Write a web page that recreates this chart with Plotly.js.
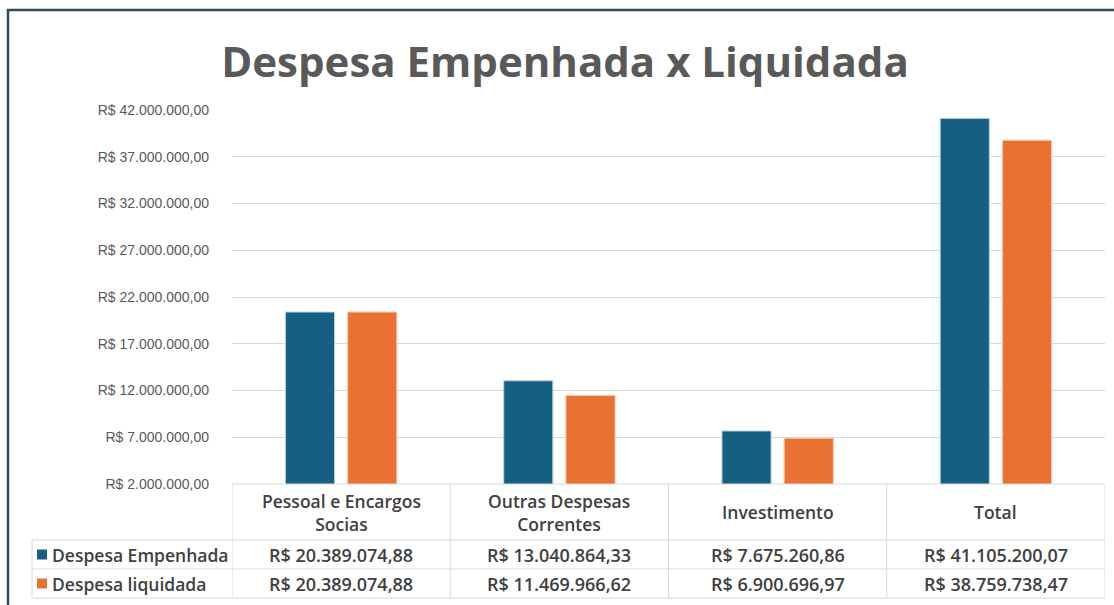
<!DOCTYPE html>
<html>
<head>
<meta charset="utf-8">
<script src="https://cdn.plot.ly/plotly-3.0.1.min.js"></script>
<style>html,body{margin:0;padding:0;background:#fff;}#chart{width:1114px;height:605px;}</style>
</head>
<body>
<div id="chart"></div>
<script>
// ---- data ----
var categories = ["Pessoal e Encargos<br>Socias", "Outras Despesas<br>Correntes", "Investimento", "Total"];
var seriesNames = ["Despesa Empenhada", "Despesa liquidada"];
var empenhada = [20389074.88, 13040864.33, 7675260.86, 41105200.07];
var liquidada = [20389074.88, 11469966.62, 6900696.97, 38759738.47];
var tickValues = [2000000, 7000000, 12000000, 17000000, 22000000, 27000000, 32000000, 37000000, 42000000];
var tickLabels = ["R$ 2.000.000,00", "R$ 7.000.000,00", "R$ 12.000.000,00", "R$ 17.000.000,00", "R$ 22.000.000,00",
                  "R$ 27.000.000,00", "R$ 32.000.000,00", "R$ 37.000.000,00", "R$ 42.000.000,00"];

function brl(v) {
  var parts = v.toFixed(2).split(".");
  var intPart = parts[0].replace(/\B(?=(\d{3})+(?!\d))/g, ".");
  return "R$ " + intPart + "," + parts[1];
}

// ---- layout helpers (pixel -> paper) ----
var W = 1114, H = 605, ML = 232, MR = 9, MT = 110, MB = 121;
var PW = W - ML - MR, PH = H - MT - MB;
function px(x) { return (x - ML) / PW; }
function py(y) { return (H - MB - y) / PH; }

var blue = "#156082", orange = "#E97132";
var gridC = "#d9d9d9", textC = "#404040";
var catIdx = categories.map(function (c, i) { return i; });

var traces = [
  { type: "bar", name: seriesNames[0], x: catIdx, y: empenhada, marker: { color: blue, line: { color: "#b9d3e0", width: 1 } } },
  { type: "bar", name: seriesNames[1], x: catIdx, y: liquidada, marker: { color: orange, line: { color: "#f7c9ad", width: 1 } } }
];

var rowTop = 484, rowH1 = 540, rowH2 = 569, rowBot = 598, legLeft = 32;
var shapes = [];
function line(xref, x0, x1, y0, y1, color, w) {
  shapes.push({ type: "line", xref: xref, yref: "paper", x0: x0, x1: x1, y0: y0, y1: y1, line: { color: color, width: w } });
}
// table horizontal lines
line("x", -0.5, 3.5, py(rowTop), py(rowTop), gridC, 1);
[rowH1, rowH2, rowBot].forEach(function (yy) {
  shapes.push({ type: "line", xref: "paper", yref: "paper", x0: px(legLeft), x1: 1, y0: py(yy), y1: py(yy), line: { color: gridC, width: 1 } });
});
// table vertical lines (category boundaries)
for (var b = 0; b <= categories.length; b++) {
  line("x", b - 0.5, b - 0.5, py(rowTop), py(rowBot), gridC, 1);
}
shapes.push({ type: "line", xref: "paper", yref: "paper", x0: px(legLeft), x1: px(legLeft), y0: py(rowH1), y1: py(rowBot), line: { color: gridC, width: 1 } });
// legend keys
var keyColors = [blue, orange];
var rowCenters = [(rowH1 + rowH2) / 2, (rowH2 + rowBot) / 2];
keyColors.forEach(function (c, i) {
  shapes.push({ type: "rect", xref: "paper", yref: "paper", x0: px(37), x1: px(47),
    y0: py(rowCenters[i] + 5), y1: py(rowCenters[i] - 5), fillcolor: c, line: { width: 0 } });
});
// outer chart border
shapes.push({ type: "line", xref: "paper", yref: "paper", x0: px(7), x1: px(1114), y0: py(10), y1: py(10), line: { color: "#2f4b5b", width: 2.5 } });
shapes.push({ type: "line", xref: "paper", yref: "paper", x0: px(8), x1: px(8), y0: py(9), y1: py(605), line: { color: "#2f4b5b", width: 2.5 } });

var tfont = { family: "Open Sans, sans-serif", size: 18, color: textC, weight: 600 };
var hfont = { family: "Open Sans, sans-serif", size: 17.5, color: textC, weight: 600 };
var lfont = { family: "Open Sans, sans-serif", size: 17.5, color: textC, weight: 600 };
var annotations = [];
categories.forEach(function (c, i) {
  annotations.push({ xref: "x", yref: "paper", x: i, y: py((rowTop + rowH1) / 2), text: c, showarrow: false,
    font: hfont, xanchor: "center", yanchor: "middle" });
  annotations.push({ xref: "x", yref: "paper", x: i, y: py(rowCenters[0]), text: brl(empenhada[i]), showarrow: false,
    font: tfont, xanchor: "center", yanchor: "middle" });
  annotations.push({ xref: "x", yref: "paper", x: i, y: py(rowCenters[1]), text: brl(liquidada[i]), showarrow: false,
    font: tfont, xanchor: "center", yanchor: "middle" });
});
seriesNames.forEach(function (n, i) {
  annotations.push({ xref: "paper", yref: "paper", x: px(50), y: py(rowCenters[i]), text: n, showarrow: false,
    font: lfont, xanchor: "left", yanchor: "middle" });
});

var layout = {
  width: W, height: H,
  margin: { l: ML, r: MR, t: MT, b: MB },
  paper_bgcolor: "#ffffff", plot_bgcolor: "#ffffff",
  title: { text: "Despesa Empenhada x Liquidada", xref: "container", yref: "container", x: 565 / W, y: 1 - 62 / H,
    xanchor: "center", yanchor: "middle",
    font: { family: "Open Sans, sans-serif", size: 42, color: "#595959", weight: 700 } },
  barmode: "group", bargap: 0.43, bargroupgap: 0.21,
  showlegend: false,
  xaxis: { type: "linear", range: [-0.5, 3.5], showticklabels: false, showgrid: false, zeroline: false, showline: false, ticks: "", fixedrange: true },
  yaxis: { range: [2000000, 42000000], tickvals: tickValues, ticktext: tickLabels, showgrid: true, gridcolor: gridC, gridwidth: 1,
    zeroline: false, showline: false, ticks: "", ticklen: 0, tickfont: { family: "Liberation Sans, Arial, sans-serif", size: 14, color: "#595959" }, ticklabelstandoff: 22 },
  shapes: shapes,
  annotations: annotations
};

Plotly.newPlot("chart", traces, layout, { displayModeBar: false, staticPlot: true });
</script>
</body>
</html>
